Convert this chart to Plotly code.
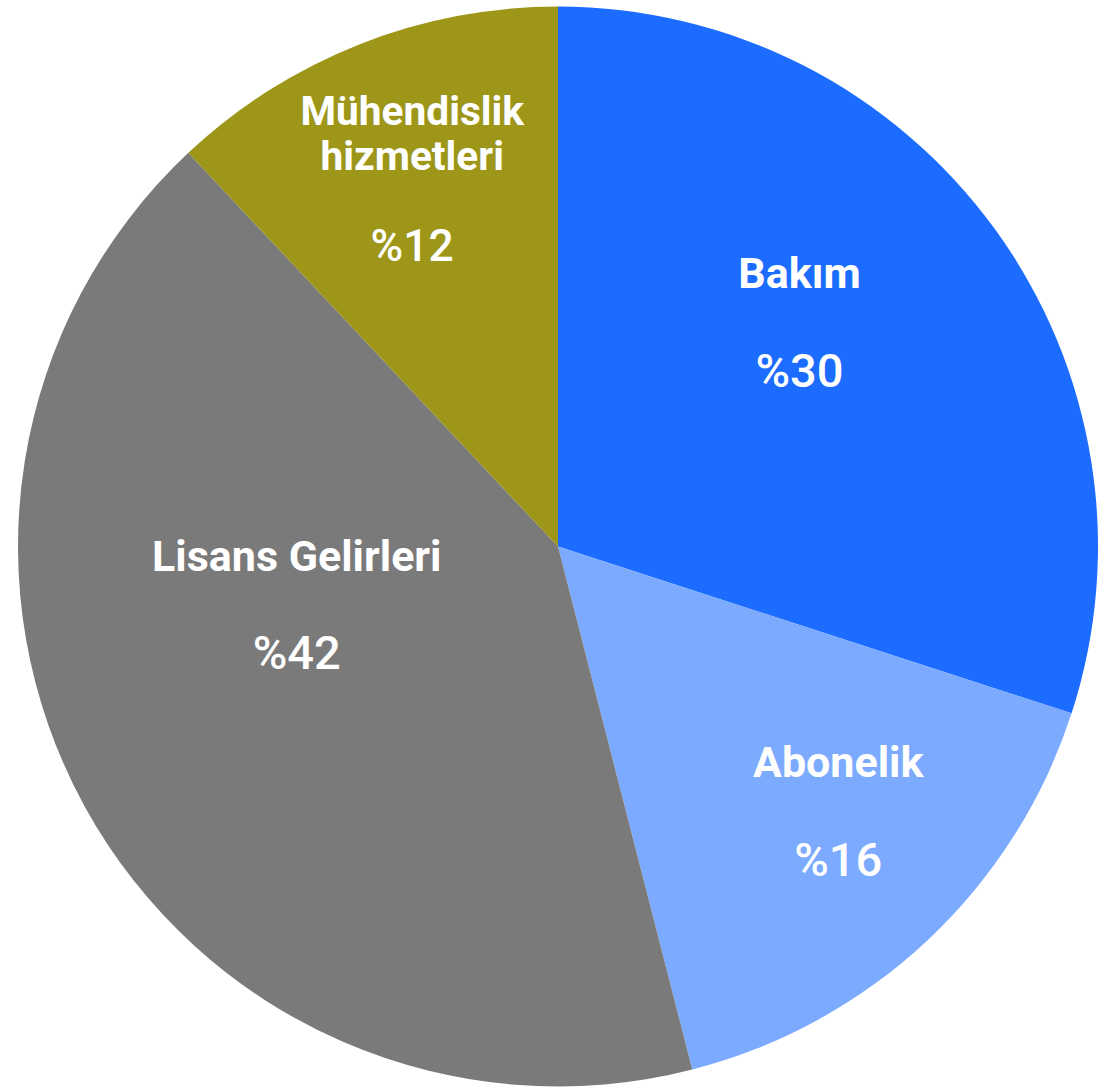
import plotly.graph_objects as go

labels = ["Bakım", "Abonelik", "Lisans Gelirleri", "Mühendislik<br>hizmetleri"]
values = [30, 16, 42, 12]
colors = ["#1b6cff", "#7baaff", "#7a7a7a", "#9d9619"]

NB = "\u00a0"
LBL = "<span style='font-weight:bold;font-size:43px'>{}</span>"
PCT = "<span style='font-weight:500;font-size:47px'>%%{value}</span>"
SP = "<span style='font-size:42px'>{}</span>"

# per-slice text layout (padding lines / spaces nudge the text inside its slice)
templates = [
    LBL.format("%{label}") + "<br><br>" + PCT + "<br>" + NB + "<br>" + NB,
    SP.format(NB * 6) + LBL.format("%{label}") + "<br><br>" + SP.format(NB * 6) + PCT,
    LBL.format("%{label}") + SP.format(NB * 4) + "<br><br>" + PCT + SP.format(NB * 4)
    + "<br>" + NB + "<br>" + NB + "<br>" + NB,
    LBL.format("%{label}") + "<br><br>" + PCT,
]

fig = go.Figure(go.Pie(
    labels=labels,
    values=values,
    sort=False,
    direction="clockwise",
    rotation=0,
    marker=dict(colors=colors, line=dict(width=0)),
    texttemplate=templates,
    textposition="inside",
    insidetextorientation="horizontal",
    textfont=dict(family="Roboto", size=[38, 38, 38, 37], color="white"),
    hoverinfo="label+percent",
    showlegend=False,
))

fig.update_layout(
    width=1098,
    height=1092,
    margin=dict(l=18, r=0, t=5, b=4),
    paper_bgcolor="white",
    plot_bgcolor="white",
)

fig.write_html("out.html", config={"displayModeBar": False},
               post_script="document.body.style.margin='0';")
